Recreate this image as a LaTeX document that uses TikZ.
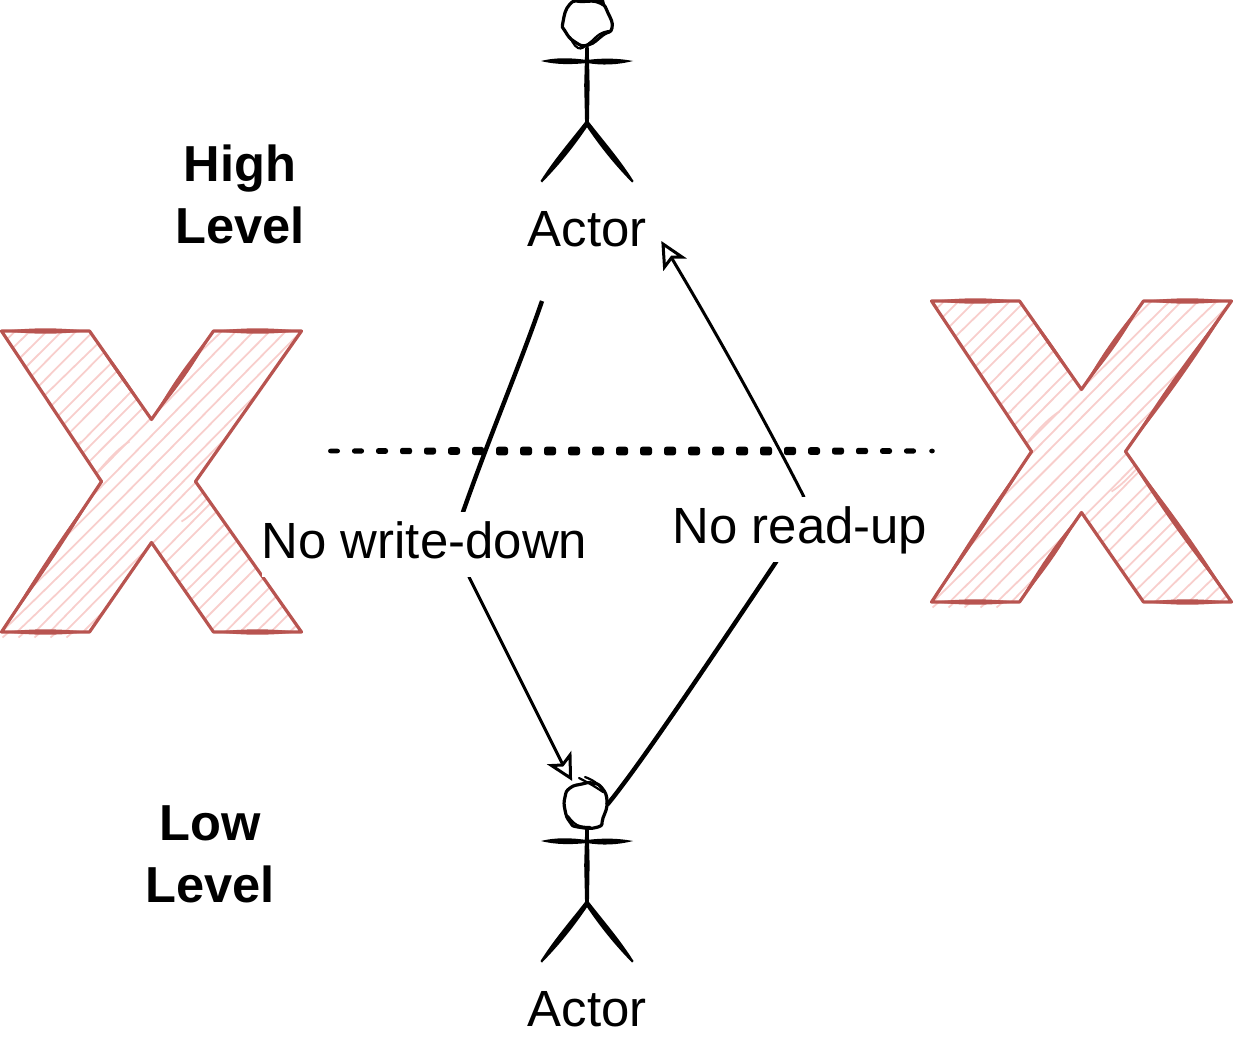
\documentclass[tikz,border=0pt]{standalone}
\usepackage{fontspec}
\setmainfont{Liberation Sans}
\definecolor{xline}{HTML}{B85450}
\definecolor{xhatch}{HTML}{F8CECC}
\tikzset{
  xedge/.style={draw=xline,line width=3.2pt,line join=round},
  hatch/.style={draw=xhatch,line width=1.8pt},
  headline/.style={draw=black,line width=3.2pt,line join=round,line cap=round},
  headfine/.style={draw=black,line width=2.2pt,line join=round,line cap=round},
  thinlink/.style={draw=black,line width=3pt,line cap=round},
  thicklink/.style={draw=black,line width=4.4pt,line cap=butt},
  tip/.style={draw=black,fill=white,line width=3pt,line join=miter},
  lbl/.style={font=\fontsize{50.9}{62}\selectfont,inner sep=0pt,align=center},
  lvl/.style={font=\fontsize{50.6}{62.5}\selectfont\bfseries,inner sep=0pt,align=center},
  boxlbl/.style={lbl,fill=white,anchor=base,text height=46.5pt,text depth=18.5pt},
  dotmark/.style={fill=black,rounded corners=2.4pt}
}
\newcommand{\lens}[5]{\fill[xline] (#1,#2) to[bend left=#5] (#3,#4) to[bend left=#5] (#1,#2) -- cycle;}
\newcommand{\crossshape}[2]{%
  \begin{scope}[shift={(#1,#2)}]
    \begin{scope}
      \clip (-150,-150.5) -- (-62,-150.5) -- (0,-62) -- (62,-150.5) -- (150,-150.5) -- (44,0) -- (150,150.5) -- (62,150.5) -- (0,61) -- (-62,150.5) -- (-150,150.5) -- (-50,0) -- cycle;
      \foreach \k in {-320,-304,...,320}{
        \pgfmathsetmacro\ja{rand*2.5}
        \pgfmathsetmacro\jb{rand*2.5}
        \pgfmathsetmacro\jc{rand*4}
        \draw[hatch] (\k+\ja-170,170) .. controls (\k-60+\jc,62) and (\k+60+\jc,-62) .. (\k+\jb+170,-170);
      }
      \foreach \k in {-110,-62,70,118}{
        \draw[hatch] (\k-40,40) .. controls (\k-15,25) and (\k+15,-25) .. (\k+40,-40);
      }
    \end{scope}
    \foreach \k in {-142,-126,-110,-94,-78}{
      \draw[hatch] (\k,150) -- (\k-7,156);
    }
    \draw[xedge] (-150,-150.5) -- (-62,-150.5) -- (0,-62) -- (62,-150.5) -- (150,-150.5) -- (44,0) -- (150,150.5) -- (62,150.5) -- (0,61) -- (-62,150.5) -- (-150,150.5) -- (-50,0) -- cycle;
    \lens{-150}{-150.5}{-62}{-150.5}{6}
    \lens{62}{-150.5}{150}{-150.5}{6}
    \lens{-150}{150.5}{-62}{150.5}{6}
    \lens{62}{150.5}{150}{150.5}{6}
    \lens{-62}{-150.5}{0}{-62}{3}
    \lens{0}{-62}{62}{-150.5}{5}
    \lens{-50}{0}{-150}{150.5}{2.5}
  \end{scope}}
\newcommand{\stick}[2]{%
  \begin{scope}[shift={(#1,#2)}]
    \fill[black] (-46,21) .. controls (-30,17) and (-15,18) .. (0,20) .. controls (15,18) and (30,18) .. (46,21) .. controls (30,25) and (15,25.5) .. (0,23) .. controls (-15,24.5) and (-30,25) .. (-46,21) -- cycle;
    \fill[black] (-1.7,6) -- (1.7,6) -- (2.6,45) -- (1.9,84) -- (-1.9,84) -- (-2.8,45) -- cycle;
    \fill[black] (-0.5,80) .. controls (-15,99) and (-32,118) .. (-46.5,141) -- (-45,142.5) .. controls (-28,125) and (-14,108) .. (1.5,85) -- cycle;
    \fill[black] (0.5,80) .. controls (15,99) and (32,118) .. (46.5,141) -- (45,142.5) .. controls (28,125) and (14,108) .. (-1.5,85) -- cycle;
  \end{scope}}
\begin{document}
\begin{tikzpicture}[x=1pt,y=-1pt]
  \useasboundingbox (0,0) rectangle (1233,1044);
  \pgfmathsetseed{7}
  \crossshape{151.5}{481.5}
  \crossshape{1081.5}{451.5}
  % extra heavy edges of the right cross
  \lens{1125}{452}{1232}{301}{3}
  \lens{1125}{452}{1232}{602}{3}
  \lens{1019}{602}{1081}{513}{5}
  % dotted boundary: marks tapering at both ends
  \coordinate (dotL) at (329,451);
  \coordinate (dotR) at (935,451);
  \foreach \k in {0,...,25}{
    \pgfmathsetmacro\px{\k==25 ? 932 : 334+24*\k}
    \pgfmathsetmacro\hh{min(min(4.6+0.6*\k,8.6),min(4.6+0.6*(25-\k),8.6))}
    \pgfmathsetmacro\ww{\k==25 ? 2.8 : 6}
    \fill[dotmark] (\px-\ww,451-\hh/2) rectangle (\px+\ww,451+\hh/2);
  }
  % actors
  \stick{587}{40}
  \draw[headline] plot[smooth cycle,tension=.9] coordinates {(583,1.5) (570,4) (563,22) (565,31) (575,42) (588,45) (603,35) (612,28) (608,13) (600,3)};
  \draw[headfine] plot[smooth,tension=.8] coordinates {(570,37) (578,48) (588,44) (600,34) (610,31)};
  \fill[black] (592,0) -- (604,0) -- (606,8) -- (600,3) -- cycle;
  \stick{587}{820}
  \draw[headline] plot[smooth cycle,tension=.9] coordinates {(570,788) (565,797) (565,810) (570,822) (578,827) (598,827) (603,818) (607,802) (602,788) (592,783) (582,784)};
  \draw[headfine] plot[smooth,tension=.8] coordinates {(579,778) (592,785) (603,792)};
  \draw[headfine] plot[smooth,tension=.8] coordinates {(585,777) (595,782) (603,790)};
  \draw[headfine] plot[smooth,tension=.8] coordinates {(568,816) (577,825) (590,827)};
  \node[lbl,anchor=base] (actorTop) at (587,246) {Actor};
  \node[lbl,anchor=base] (actorBottom) at (587,1026) {Actor};
  \node[lvl] (high) at (240,194.3) {High\\Level};
  \node[lvl] (low) at (210,854.5) {Low\\Level};
  % connectors
  \coordinate (wdStart) at (542,301);
  \coordinate (wdA) at (463,512);
  \coordinate (wdB) at (469,577);
  \coordinate (wdEnd) at (566,771);
  \coordinate (ruStart) at (607,805);
  \coordinate (ruA) at (776,562);
  \coordinate (ruB) at (804,497);
  \coordinate (ruEnd) at (668,252);
  \draw[thicklink] (wdStart) .. controls (520,365) and (490,435) .. (wdA) -- (wdB);
  \draw[thinlink] (wdB) -- (wdEnd);
  \draw[thicklink] (ruStart) .. controls (640,765) and (710,660) .. (ruA) -- (ruB);
  \draw[thinlink] (ruB) .. controls (770,430) and (715,330) .. (ruEnd);
  \draw[tip] (570.5,778) -- (551.5,765.5) -- (562.5,765) -- (570,755) -- cycle;
  \draw[tip] (663,244) -- (682,257) -- (672,257) -- (664.5,267) -- cycle;
  \node[boxlbl] (wd) at (424.5,558.5) {No write-down};
  \node[boxlbl] (ru) at (800,543.5) {No read-up};
\end{tikzpicture}
\end{document}
